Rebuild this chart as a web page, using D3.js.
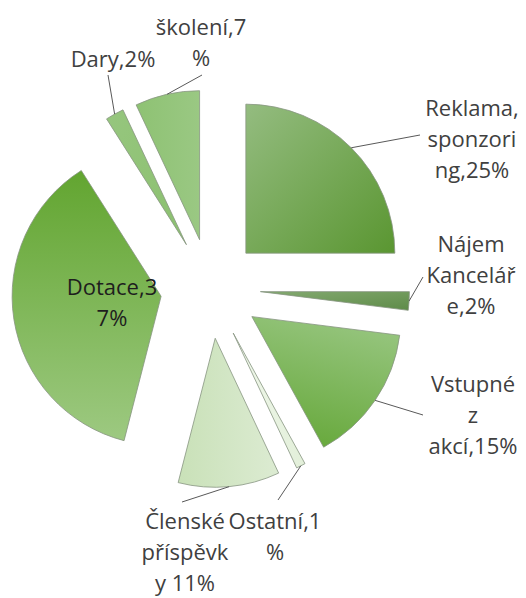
<!DOCTYPE html>
<html lang="cs">
<head>
<meta charset="UTF-8">
<title>Struktura příjmů</title>
<script src="https://d3js.org/d3.v7.min.js"></script>
<style>
  html, body { margin: 0; padding: 0; background: #fff; }
  svg { display: block; }
  .lbl { font-family: "Open Sans", "Noto Sans", sans-serif; font-size: 22px; fill: #404040; }
  .leader { stroke: #595959; stroke-width: 1; fill: none; }
</style>
</head>
<body>
<div id="chart"></div>
<script>
// data
const categories = ["Reklama, sponzoring", "Nájem Kanceláře", "Vstupné z akcí", "Ostatní",
                    "Členské příspěvky", "Dotace", "Dary", "školení"];
const values = [25, 2, 15, 1, 11, 37, 2, 7];
// label text as wrapped in the chart
const labelLines = [
  ["Reklama,", "sponzori", "ng,25%"],
  ["Nájem", "Kancelář", "e,2%"],
  ["Vstupné", "z", "akcí,15%"],
  ["Ostatní,1", "%"],
  ["Členské", "příspěvk", "y 11%"],
  ["Dotace,3", "7%"],
  ["Dary,2%"],
  ["školení,7", "%"]
];

// layout
const W = 526, H = 598;
const cx = 210.5, cy = 288.5, radius = 149, explode = 50, lineH = 31;
const labelAnchor = [[472, 116], [471, 252], [473, 392], [275, 529], [185, 529], [112, 295], [113, 67], [201, 35]];
const leaderEnd = [[420, 135], [423, 277], [423, 415], [278, 500], [182, 502], null, [108, 75], [202, 75]];
const fills = [
  { c: ["#94bc80", "#5a9631"], v: [0, 0, 1, 1] },
  { c: ["#84aa70", "#5e8b49"], v: [0, 0, 1, 1] },
  { c: ["#96c57e", "#66a83a"], v: [0.6, 0, 0.3, 1] },
  { c: ["#f1f8ec", "#e2efd9"], v: [0, 0, 1, 0] },
  { c: ["#c9e1b8", "#dcebd2"], v: [0, 0, 1, 0] },
  { c: ["#62a530", "#9dc981"], v: [0, 0, 0, 1] },
  { c: ["#96c67e", "#8bc06f"], v: [0, 0, 1, 1] },
  { c: ["#8ec273", "#9ac883"], v: [0, 0, 1, 0] }
];

const svg = d3.select("#chart").append("svg")
  .attr("width", W).attr("height", H);

const defs = svg.append("defs");
fills.forEach((f, i) => {
  const g = defs.append("linearGradient").attr("id", "g" + i)
    .attr("x1", f.v[0]).attr("y1", f.v[1]).attr("x2", f.v[2]).attr("y2", f.v[3]);
  g.append("stop").attr("offset", 0).attr("stop-color", f.c[0]);
  g.append("stop").attr("offset", 1).attr("stop-color", f.c[1]);
});

const pie = d3.pie().sort(null).startAngle(0).endAngle(2 * Math.PI);
const arcs = pie(values);
const arc = d3.arc().innerRadius(0).outerRadius(radius);
const mid = d => (d.startAngle + d.endAngle) / 2;
const polar = (a, r) => [Math.sin(a) * r, -Math.cos(a) * r];

const g = svg.append("g").attr("transform", `translate(${cx},${cy})`);

g.selectAll("path.slice")
  .data(arcs)
  .enter().append("path")
  .attr("class", "slice")
  .attr("transform", d => {
    const p = polar(mid(d), explode);
    return `translate(${p[0]},${p[1]})`;
  })
  .attr("d", arc)
  .attr("fill", (d, i) => `url(#g${i})`)
  .attr("stroke", "#869480")
  .attr("stroke-width", 0.8);

// leader lines
arcs.forEach((d, i) => {
  if (!leaderEnd[i]) return;
  const p = polar(mid(d), explode + radius);
  svg.append("line").attr("class", "leader")
    .attr("x1", cx + p[0]).attr("y1", cy + p[1])
    .attr("x2", leaderEnd[i][0]).attr("y2", leaderEnd[i][1]);
});

// labels
labelLines.forEach((lines, i) => {
  const t = svg.append("text").attr("class", "lbl")
    .attr("text-anchor", "middle")
    .attr("x", labelAnchor[i][0]).attr("y", labelAnchor[i][1]);
  if (categories[i] === "Dotace") t.style("fill", "#1e1e1e");
  lines.forEach((s, k) => {
    t.append("tspan").attr("x", labelAnchor[i][0]).attr("dy", k === 0 ? 0 : lineH).text(s);
  });
});
</script>
</body>
</html>
